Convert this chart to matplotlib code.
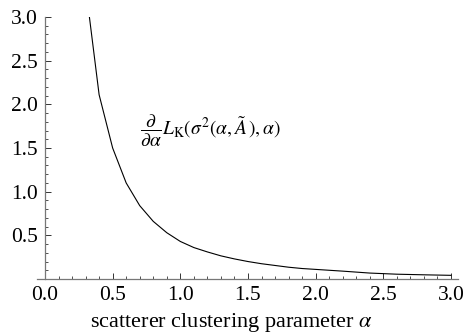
import matplotlib
matplotlib.use("Agg")
import matplotlib.pyplot as plt
import numpy as np

plt.rcParams['font.family'] = ['Liberation Serif', 'DejaVu Serif']
plt.rcParams['mathtext.fontset'] = 'stix'

alpha = [0.3, 0.4, 0.5, 0.6, 0.7, 0.8, 0.9, 1.0, 1.1, 1.2, 1.3, 1.4, 1.5,
         1.6, 1.7, 1.8, 1.9, 2.0, 2.2, 2.4, 2.6, 2.8, 3.0]
deriv = [3.35, 2.11, 1.50, 1.10, 0.84, 0.66, 0.53, 0.43, 0.36, 0.31, 0.265,
         0.23, 0.20, 0.175, 0.155, 0.135, 0.12, 0.11, 0.09, 0.068, 0.055,
         0.048, 0.042]
xticks = [0.0, 0.5, 1.0, 1.5, 2.0, 2.5, 3.0]
yticks = [0.5, 1.0, 1.5, 2.0, 2.5, 3.0]
xlabel = r"scatterer clustering parameter $\alpha$"
curve_label = r"$\dfrac{\partial}{\partial\alpha}L_{\mathrm{K}}(\sigma^2(\alpha,\tilde{A}\,),\alpha)$"

fig = plt.figure(figsize=(4.68, 3.36), dpi=100)
ax = fig.add_axes([37/468, (336-279)/336, (458-37)/468, 262/336])
ax.plot(alpha, deriv, color='black', lw=0.8)
ax.set_xlim(-0.059, 3.052)
ax.set_ylim(0, 3.0)

for s in ['top', 'right']:
    ax.spines[s].set_visible(False)
ax.spines['left'].set_position(('data', 0))
ax.spines['left'].set_bounds(0, 3.0)
ax.spines['bottom'].set_position(('data', 0))
for s in ['left', 'bottom']:
    ax.spines[s].set_color('#777777')
    ax.spines[s].set_linewidth(0.9)

ax.set_xticks(xticks)
ax.set_xticklabels([f"{t:.1f}" for t in xticks])
ax.set_yticks(yticks)
ax.set_yticklabels([f"{t:.1f}" for t in yticks])
ax.set_xticks(np.arange(0.1, 3.0, 0.1), minor=True)
ax.set_yticks(np.arange(0.1, 3.0, 0.1), minor=True)
ax.tick_params(which='major', direction='in', length=4, width=0.7,
               color='#333333', labelsize=15.5)
ax.tick_params(which='minor', direction='in', length=2.2, width=0.6,
               color='#333333')
ax.tick_params(axis='x', which='major', pad=5)
ax.tick_params(axis='y', which='major', pad=5)

ax.set_xlabel(xlabel, fontsize=16, labelpad=1)
ax.xaxis.set_label_coords((231 - 37) / 421, -0.123)
ax.text(0.70, 1.70, curve_label, fontsize=14, va='center', ha='left')

fig.savefig("out.png", dpi=100)
